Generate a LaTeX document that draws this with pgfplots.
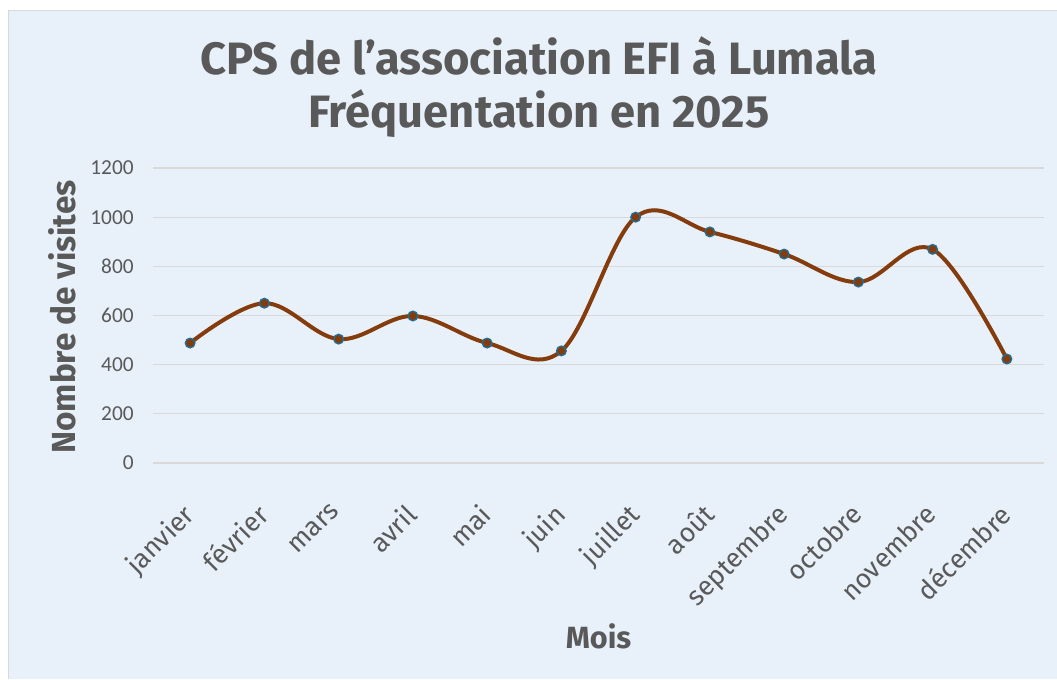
\documentclass[border=0pt]{standalone}
\usepackage{pgfplots}
\pgfplotsset{compat=1.18}
\usepackage{fontspec}
\setmainfont{Fira Sans}
\newfontfamily\tickfont{Carlito}
\definecolor{bgblue}{HTML}{E8F0F9}
\definecolor{txtgray}{HTML}{595959}
\definecolor{linebrown}{HTML}{843C0C}
\definecolor{markblue}{HTML}{1F6E96}
\definecolor{gridgray}{HTML}{D9D9D9}
\begin{document}
\begin{tikzpicture}
\useasboundingbox (0,0) rectangle (792.75pt,509.25pt);
\fill[white] (0,0) rectangle (792.75pt,509.25pt);
\fill[bgblue] (6pt,0) rectangle (792.75pt,501.75pt);
\draw[gridgray,line width=0.6pt] (6pt,0) -- (6pt,501.75pt) -- (792.75pt,501.75pt);
\begin{axis}[
  at={(114.75pt,162pt)}, anchor=south west,
  scale only axis, width=668.25pt, height=221.25pt,
  xmin=-0.5, xmax=11.5, ymin=0, ymax=1200,
  ytick={0,200,...,1200},
  xtick={0,...,11},
  xticklabels={janvier,février,mars,avril,mai,juin,juillet,août,septembre,octobre,novembre,décembre},
  axis line style={draw=none},
  major tick length=0pt,
  ymajorgrids, grid style={gridgray,line width=0.9pt},
  yticklabel style={font=\tickfont\fontsize{16}{18}\selectfont, text=txtgray, anchor=east, xshift=-11pt},
  xticklabel style={font=\fontsize{20}{22}\selectfont, text=txtgray, rotate=45, anchor=north east, xshift=-22pt, yshift=-12.5pt},
  /pgf/number format/assume math mode=true,
  /pgf/number format/1000 sep={},
  clip=false,
]
\addplot[linebrown, line width=3pt, smooth, tension=0.6,
  mark=*, mark size=3.6pt,
  mark options={fill=linebrown, draw=markblue, line width=1pt}]
  coordinates {(0,488) (1,650) (2,504) (3,598) (4,488) (5,456) (6,1000) (7,940) (8,850) (9,736) (10,869) (11,423)};
\end{axis}
\node[anchor=base, font=\bfseries\fontsize{34}{38}\selectfont, text=txtgray] at (404.25pt,453pt) {CPS de l'association EFI à Lumala};
\node[anchor=base, font=\bfseries\fontsize{34}{38}\selectfont, text=txtgray] at (404.25pt,413.25pt) {Fréquentation en 2025};
\node[anchor=base, font=\bfseries\fontsize{23}{26}\selectfont, text=txtgray] at (448.9pt,23.25pt) {Mois};
\node[anchor=base, rotate=90, font=\bfseries\fontsize{25}{28}\selectfont, text=txtgray] at (56.25pt,271.5pt) {Nombre de visites};
\end{tikzpicture}
\end{document}
